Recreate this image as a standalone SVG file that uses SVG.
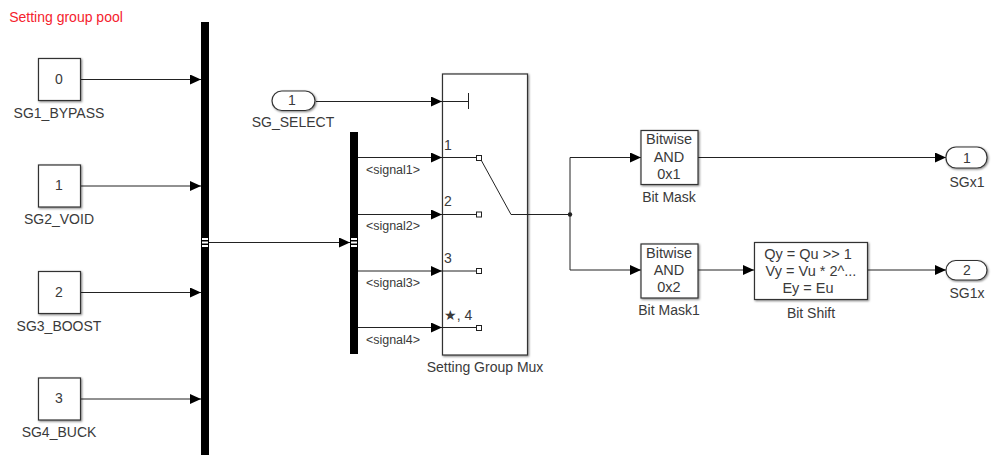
<svg xmlns="http://www.w3.org/2000/svg" width="991" height="455" viewBox="0 0 991 455">
<defs>
<marker id="a" markerUnits="userSpaceOnUse" markerWidth="11" markerHeight="10" refX="11" refY="5" orient="auto"><path d="M0 0L11 5L0 10Z" fill="#000"/></marker>
<filter id="s" x="-10%" y="-10%" width="125%" height="125%"><feDropShadow dx="1" dy="1" stdDeviation="0.8" flood-color="#000" flood-opacity="0.5"/></filter>
</defs>
<style>
text{font-family:"Liberation Sans",Arial,sans-serif;font-size:14px;fill:#3a3a3a;text-anchor:middle}
.b{fill:#fff;stroke:#333;stroke-width:1.2;filter:url(#s)}
.c{fill:none;stroke:#222;stroke-width:1}
.k{fill:#000}
.p{fill:#fff;stroke:#222;stroke-width:1}
.l{font-size:12.500px}
.m{font-size:14.500px}
</style>
<rect width="991" height="455" fill="#fff"/>
<text id="title" x="66" y="22" style="fill:#f5222d">Setting group pool</text>
<g id="connectors">
<path class="c" marker-end="url(#a)" d="M80.500 79.500H201"/>
<path class="c" marker-end="url(#a)" d="M80.500 186H201"/>
<path class="c" marker-end="url(#a)" d="M80.500 292.500H201"/>
<path class="c" marker-end="url(#a)" d="M80.500 399H201"/>
<path class="c" marker-end="url(#a)" d="M209 242.500H350"/>
<path class="c" marker-end="url(#a)" d="M316 101.500H442"/>
<path class="c" marker-end="url(#a)" d="M358 157.500H442"/>
<path class="c" marker-end="url(#a)" d="M358 214.500H442"/>
<path class="c" marker-end="url(#a)" d="M358 271H442"/>
<path class="c" marker-end="url(#a)" d="M358 327.500H442"/>
<path class="c" marker-end="url(#a)" d="M528 214.500H570V157.500H641"/>
<path class="c" marker-end="url(#a)" d="M570 214.500V270H641"/>
<circle cx="570" cy="214.500" r="2.200" fill="#222"/>
<path class="c" marker-end="url(#a)" d="M698 157.500H946"/>
<path class="c" marker-end="url(#a)" d="M698 270H754"/>
<path class="c" marker-end="url(#a)" d="M868 270H946"/>
</g>
<g id="sg1"><rect class="b" x="38.500" y="58.500" width="42" height="42"/><text x="59" y="84">0</text><text x="59" y="118">SG1_BYPASS</text></g>
<g id="sg2"><rect class="b" x="38.500" y="165" width="42" height="42"/><text x="59" y="190">1</text><text x="59" y="224">SG2_VOID</text></g>
<g id="sg3"><rect class="b" x="38.500" y="271.500" width="42" height="42"/><text x="59" y="297">2</text><text x="59" y="331">SG3_BOOST</text></g>
<g id="sg4"><rect class="b" x="38.500" y="378" width="42" height="42"/><text x="59" y="403">3</text><text x="59" y="437">SG4_BUCK</text></g>
<g id="bus1"><rect class="k" x="201" y="22" width="8" height="433"/><rect x="202" y="238" width="6" height="2" fill="#fff"/><rect x="202" y="241.500" width="6" height="2" fill="#fff"/><rect x="202" y="245" width="6" height="2" fill="#fff"/></g>
<g id="bus2"><rect class="k" x="350" y="132" width="8" height="222"/><rect x="351" y="238" width="6" height="2" fill="#fff"/><rect x="351" y="241.500" width="6" height="2" fill="#fff"/><rect x="351" y="245" width="6" height="2" fill="#fff"/></g>
<g id="select"><rect class="b" x="272" y="91" width="43" height="19.500" rx="9.700"/><text x="292" y="105">1</text><text x="293" y="127">SG_SELECT</text></g>
<g id="mux"><rect class="b" x="442.500" y="74" width="85" height="281"/>
<path class="c" d="M442 101.500H468M468.500 93V109"/>
<path class="c" d="M442 157.500H477M442 214.500H477M442 271H477M442 327.500H477"/>
<path class="c" stroke-width="1.200" d="M480 158L511 214.500H528"/>
<rect class="p" x="476.500" y="155.500" width="5" height="5"/><rect class="p" x="476.500" y="212" width="5" height="5"/><rect class="p" x="476.500" y="268.500" width="5" height="5"/><rect class="p" x="476.500" y="325.500" width="5" height="5"/>
<text x="448" y="150">1</text><text x="448" y="206">2</text><text x="448" y="263">3</text><text x="458" y="320">★, 4</text>
<text x="485" y="372">Setting Group Mux</text></g>
<g id="signals"><text class="l" x="393" y="173.500">&lt;signal1&gt;</text><text class="l" x="393" y="230">&lt;signal2&gt;</text><text class="l" x="393" y="287">&lt;signal3&gt;</text><text class="l" x="393" y="343.500">&lt;signal4&gt;</text></g>
<g id="mask"><rect class="b" x="641" y="130.500" width="57" height="54"/><text class="m" x="669" y="144">Bitwise</text><text class="m" x="669" y="161.500">AND</text><text class="m" x="669" y="178.500">0x1</text><text x="669" y="202">Bit Mask</text></g>
<g id="mask1"><rect class="b" x="641" y="244" width="57" height="54"/><text class="m" x="669" y="258">Bitwise</text><text class="m" x="669" y="275">AND</text><text class="m" x="669" y="292">0x2</text><text x="669" y="315">Bit Mask1</text></g>
<g id="shift"><rect class="b" x="754.500" y="242.500" width="113" height="57"/><text class="m" x="808" y="259">Qy = Qu &gt;&gt; 1</text><text class="m" x="811" y="276">Vy = Vu * 2^...</text><text class="m" x="808" y="293">Ey = Eu</text><text x="811" y="318">Bit Shift</text></g>
<g id="out1"><rect class="b" x="946" y="147" width="41" height="21" rx="10"/><text x="967" y="162.500">1</text><text x="967" y="187">SGx1</text></g>
<g id="out2"><rect class="b" x="946" y="260.500" width="41" height="19.500" rx="9.700"/><text x="967" y="275">2</text><text x="967" y="298">SG1x</text></g>
</svg>
